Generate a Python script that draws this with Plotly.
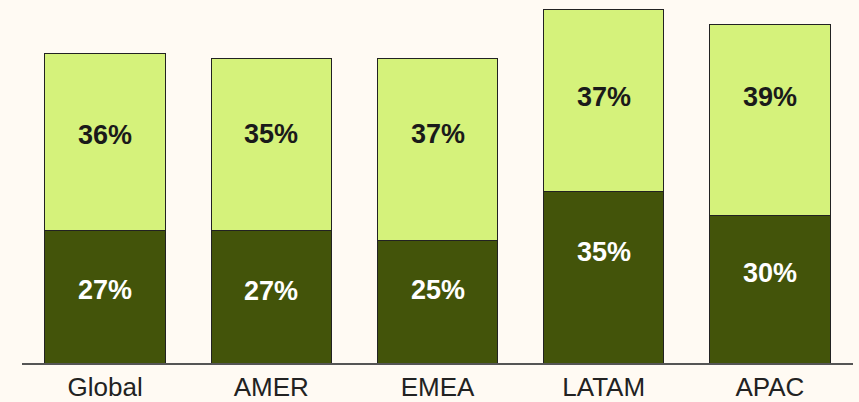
import plotly.graph_objects as go

categories = ["Global", "AMER", "EMEA", "LATAM", "APAC"]
bottom_values = [27, 27, 25, 35, 30]
top_values = [36, 35, 37, 37, 39]
bottom_labels = ["27%", "27%", "25%", "35%", "30%"]
top_labels = ["36%", "35%", "37%", "37%", "39%"]
# label anchor heights (axis units) as placed in the original
bottom_label_y = [14.9, 14.7, 14.9, 22.6, 18.4]
top_label_y = [46.5, 46.7, 46.7, 54.2, 54.2]

DARK = "#43540a"
LIGHT = "#d5f27b"
BG = "#fffaf3"
EDGE = "#222222"
FONT = "Liberation Sans, Arial, sans-serif"

fig = go.Figure()
fig.add_trace(go.Bar(x=categories, y=bottom_values, marker=dict(color=DARK, line=dict(color=EDGE, width=1)),
                     hoverinfo="skip"))
fig.add_trace(go.Bar(x=categories, y=top_values, marker=dict(color=LIGHT, line=dict(color=EDGE, width=1)),
                     hoverinfo="skip"))

for c, y, t in zip(categories, bottom_label_y, bottom_labels):
    fig.add_annotation(x=c, y=y, text=f"<b>{t}</b>", showarrow=False,
                       font=dict(family=FONT, size=27, color="#ffffff"),
                       xanchor="center", yanchor="middle")
for c, y, t in zip(categories, top_label_y, top_labels):
    fig.add_annotation(x=c, y=y, text=f"<b>{t}</b>", showarrow=False,
                       font=dict(family=FONT, size=27, color="#1a1a1a"),
                       xanchor="center", yanchor="middle")

fig.update_layout(
    barmode="stack",
    bargap=0.275,
    width=859, height=402,
    margin=dict(l=22, r=6, t=0, b=39),
    paper_bgcolor=BG, plot_bgcolor=BG,
    showlegend=False,
    xaxis=dict(showline=True, linecolor="#555555", linewidth=1.5, ticks="", showgrid=False,
               tickfont=dict(family=FONT, size=26, color="#222222")),
    yaxis=dict(range=[0, 74.0], visible=False, showgrid=False, zeroline=False),
)

fig.write_html("out.html")
